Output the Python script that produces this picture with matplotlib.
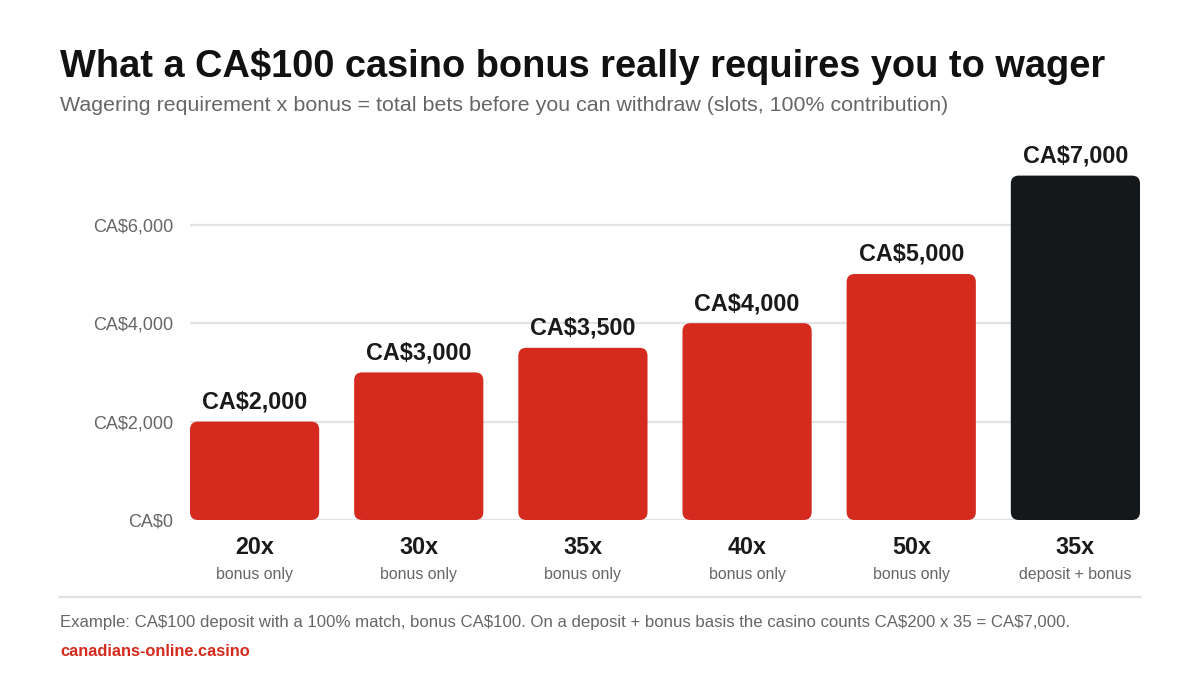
import matplotlib
matplotlib.use("Agg")
import matplotlib.pyplot as plt
from matplotlib.patches import FancyBboxPatch
from matplotlib.lines import Line2D

plt.rcParams['font.family'] = ['Liberation Sans', 'DejaVu Sans']
plt.rcParams['text.parse_math'] = False

multipliers = ["20x", "30x", "35x", "40x", "50x", "35x"]
bases = ["bonus only", "bonus only", "bonus only", "bonus only", "bonus only", "deposit + bonus"]
totals = [2000, 3000, 3500, 4000, 5000, 7000]
value_labels = ["CA$2,000", "CA$3,000", "CA$3,500", "CA$4,000", "CA$5,000", "CA$7,000"]
yticks = [0, 2000, 4000, 6000]
ytick_labels = ["CA$0", "CA$2,000", "CA$4,000", "CA$6,000"]

RED = "#d42b1e"
BLACK = "#15181b"
colors = [RED] * 5 + [BLACK]

W, H = 1200, 675
fig = plt.figure(figsize=(12, 6.75), dpi=100)
fig.patch.set_facecolor("white")

ax_left, ax_right = 190 / W, 1140 / W
ax_bottom, ax_top = (H - 520) / H, (H - 151) / H
ax = fig.add_axes([ax_left, ax_bottom, ax_right - ax_left, ax_top - ax_bottom])

bw = 0.787
ax.set_xlim(-bw / 2, len(totals) - 1 + bw / 2)
ax.set_ylim(0, 7500)

for s in ax.spines.values():
    s.set_visible(False)
ax.set_xticks([])
ax.set_yticks(yticks)
ax.set_yticklabels(ytick_labels, fontsize=13, color="#666666")
ax.tick_params(axis="y", length=0, pad=12)
for y in yticks:
    ax.axhline(y, color="#e3e3e3", lw=1.6, zorder=0)

# aspect for rounded corners
fig.canvas.draw()
x_per_px = (ax.get_xlim()[1] - ax.get_xlim()[0]) / (ax.get_window_extent().width)
y_per_px = (ax.get_ylim()[1] - ax.get_ylim()[0]) / (ax.get_window_extent().height)
aspect = y_per_px / x_per_px
r = 8 * x_per_px

for i, (v, c) in enumerate(zip(totals, colors)):
    p = FancyBboxPatch((i - bw / 2, 0), bw, v,
                       boxstyle=f"round,pad=0,rounding_size={r}",
                       mutation_aspect=aspect, facecolor=c, edgecolor="none", zorder=2)
    ax.add_patch(p)
    ax.annotate(value_labels[i], xy=(i, v), xytext=(0, 8), textcoords="offset pixels",
                ha="center", va="bottom", fontsize=16.8, fontweight="bold", color="#1a1a1a")
    ax.annotate(multipliers[i], xy=(i, 0), xytext=(0, -27), textcoords="offset pixels",
                ha="center", va="center", fontsize=16.8, fontweight="bold", color="#1a1a1a",
                annotation_clip=False)
    ax.annotate(bases[i], xy=(i, 0), xytext=(0, -54), textcoords="offset pixels",
                ha="center", va="center", fontsize=11.4, color="#666666",
                annotation_clip=False)

fig.text(60 / W, 1 - 77 / H, "What a CA$100 casino bonus really requires you to wager",
         fontsize=27.4, fontweight="bold", color="#111111", va="baseline", ha="left")
fig.text(60 / W, 1 - 111 / H,
         "Wagering requirement x bonus = total bets before you can withdraw (slots, 100% contribution)",
         fontsize=15.4, color="#666666", va="baseline", ha="left")

fig.add_artist(Line2D([60 / W, 1140 / W], [1 - 597 / H, 1 - 597 / H], color="#e0e0e0", lw=1.6,
                      transform=fig.transFigure))
fig.text(60 / W, 1 - 627 / H,
         "Example: CA$100 deposit with a 100% match, bonus CA$100. On a deposit + bonus basis the casino counts CA$200 x 35 = CA$7,000.",
         fontsize=12.05, color="#666666", va="baseline", ha="left")
fig.text(60 / W, 1 - 656 / H, "canadians-online.casino",
         fontsize=11.8, fontweight="bold", color=RED, va="baseline", ha="left")

fig.savefig("out.png", dpi=100, facecolor="white")
